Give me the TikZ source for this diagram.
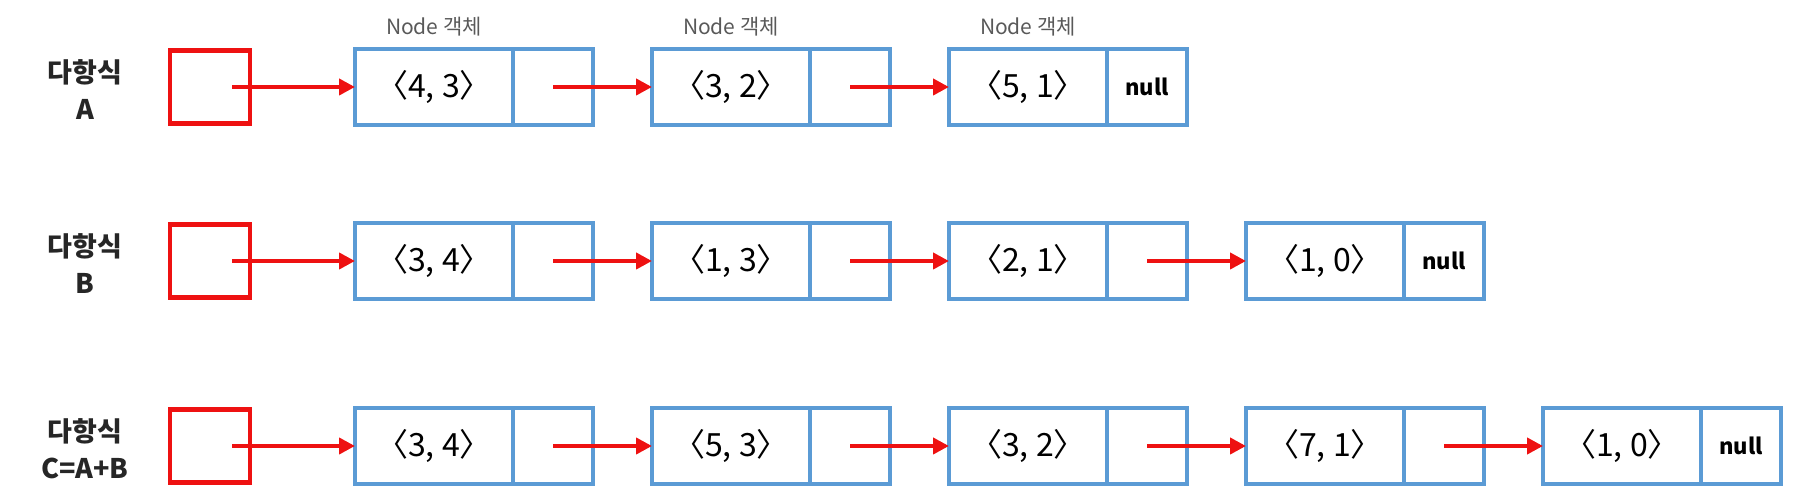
\documentclass[tikz,border=0pt]{standalone}
\usepackage{fontspec}
\setmainfont{Noto Sans CJK KR}
\usetikzlibrary{positioning,arrows.meta}
\definecolor{boxblue}{HTML}{5B9BD5}
\definecolor{ptrred}{HTML}{EE1111}

\begin{document}
\begin{tikzpicture}
            [x=0.5pt,y=-0.5pt,line width=2pt,
             every node/.style={inner sep=0pt,outer sep=0pt},
             data/.style={draw=boxblue,minimum width=79pt,minimum height=38pt,font=\fontsize{16}{18}\selectfont},
             link/.style={draw=boxblue,minimum width=40pt,minimum height=38pt,font=\bfseries\fontsize{11}{13}\selectfont},
             head/.style={draw=ptrred,line width=2.4pt,minimum width=40pt,minimum height=36.5pt},
             poly/.style={align=center,text=black!85,font=\bfseries\fontsize{13.5}{18.5}\selectfont},
             obj/.style={text=black!65,font=\fontsize{10.5}{12}\selectfont},
             ptr/.style={ptrred,-{Triangle[length=8pt,width=8pt]}}]
            \useasboundingbox (0,0) rectangle (1800,496);

            % polynomial A
            \node[poly] (la) at (85,90) {다항식\\A};
            \node[head] (pa) at (210,87) {};
            \node[data] (a1) at (434,87) {〈4, 3〉};
            \node[link,right=0pt of a1] (a1n) {};
            \node[data] (a2) at (731,87) {〈3, 2〉};
            \node[link,right=0pt of a2] (a2n) {};
            \node[data] (a3) at (1028,87) {〈5, 1〉};
            \node[link,right=0pt of a3] (a3n) {null};
            \node[obj] (oa1) at (434,27) {Node 객체};
            \node[obj] (oa2) at (731,27) {Node 객체};
            \node[obj] (oa3) at (1028,27) {Node 객체};

            \path [ptr] ([xshift=11pt]pa.center) edge (a1);
            \path [ptr] (a1n.center) edge (a2);
            \path [ptr] (a2n.center) edge (a3);

            % polynomial B
            \node[poly] (lb) at (85,264) {다항식\\B};
            \node[head] (pb) at (210,261) {};
            \node[data] (b1) at (434,261) {〈3, 4〉};
            \node[link,right=0pt of b1] (b1n) {};
            \node[data] (b2) at (731,261) {〈1, 3〉};
            \node[link,right=0pt of b2] (b2n) {};
            \node[data] (b3) at (1028,261) {〈2, 1〉};
            \node[link,right=0pt of b3] (b3n) {};
            \node[data] (b4) at (1325,261) {〈1, 0〉};
            \node[link,right=0pt of b4] (b4n) {null};

            \path [ptr] ([xshift=11pt]pb.center) edge (b1);
            \path [ptr] (b1n.center) edge (b2);
            \path [ptr] (b2n.center) edge (b3);
            \path [ptr] (b3n.center) edge (b4);

            % polynomial C = A + B
            \node[poly] (lc) at (85,449) {다항식\\C=A+B};
            \node[head] (pc) at (210,446) {};
            \node[data] (c1) at (434,446) {〈3, 4〉};
            \node[link,right=0pt of c1] (c1n) {};
            \node[data] (c2) at (731,446) {〈5, 3〉};
            \node[link,right=0pt of c2] (c2n) {};
            \node[data] (c3) at (1028,446) {〈3, 2〉};
            \node[link,right=0pt of c3] (c3n) {};
            \node[data] (c4) at (1325,446) {〈7, 1〉};
            \node[link,right=0pt of c4] (c4n) {};
            \node[data] (c5) at (1622,446) {〈1, 0〉};
            \node[link,right=0pt of c5] (c5n) {null};

            \path [ptr] ([xshift=11pt]pc.center) edge (c1);
            \path [ptr] (c1n.center) edge (c2);
            \path [ptr] (c2n.center) edge (c3);
            \path [ptr] (c3n.center) edge (c4);
            \path [ptr] (c4n.center) edge (c5);
        \end{tikzpicture}
\end{document}
